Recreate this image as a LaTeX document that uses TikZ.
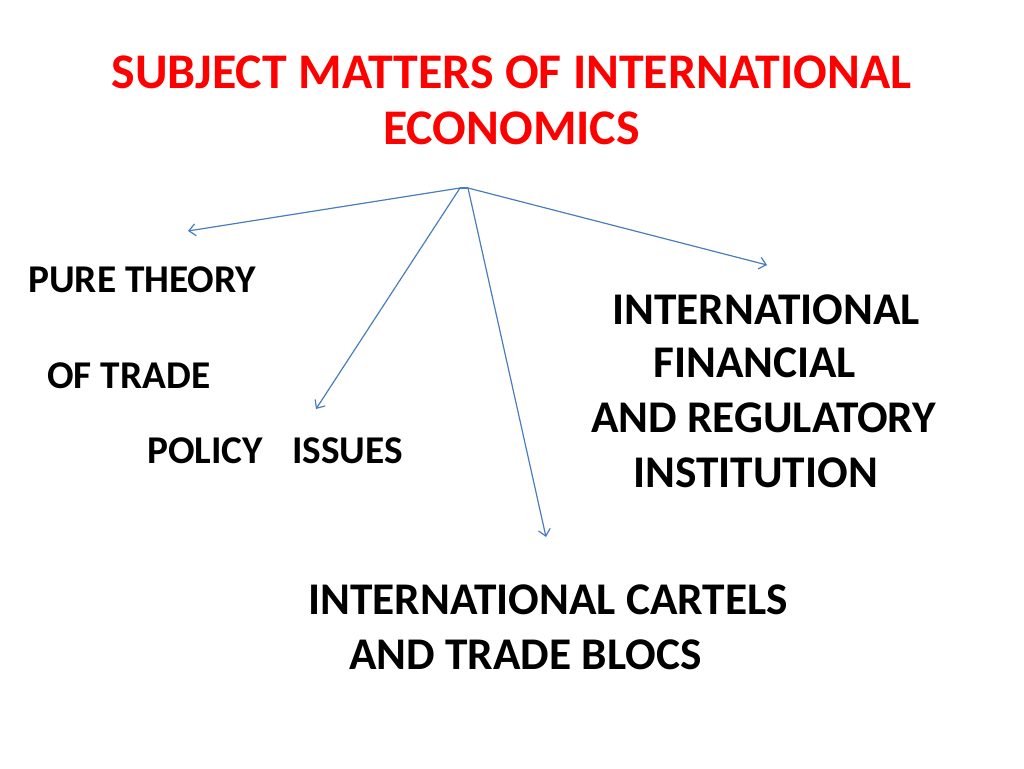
\documentclass[tikz,border=0pt]{standalone}
\usepackage{fontspec}
\setmainfont{Carlito}
\usetikzlibrary{arrows.meta}
\definecolor{arrowblue}{RGB}{74,126,187}
\definecolor{titlered}{RGB}{255,0,0}
\tikzset{
  lbl/.style={font=\fontsize{29.5}{34}\selectfont\bfseries, inner sep=0pt, anchor=west, text=black},
  lblbig/.style={font=\fontsize{34}{40}\selectfont\bfseries, inner sep=0pt, anchor=west, text=black},
  ttl/.style={font=\fontsize{37.4}{44}\selectfont\bfseries, inner sep=0pt, text=titlered},
  conn/.style={draw=arrowblue, line width=0.9pt, -{Straight Barb[length=5pt,width=9pt]}}
}
\begin{document}
\begin{tikzpicture}[x=0.75pt,y=-0.75pt]
\useasboundingbox[fill=white] (0,0) rectangle (1024,768);
\node[ttl] (t1) at (511.5,72) {SUBJECT MATTERS OF INTERNATIONAL};
\node[ttl] (t2) at (511.5,128) {ECONOMICS};
\node[lbl] (pure) at (28,280) {PURE THEORY};
\node[lbl] (oftrade) at (47,376) {OF TRADE};
\node[lbl] (policy) at (147,451) {POLICY\hspace{21.75pt}ISSUES};
\node[lblbig] (intl) at (612,310) {INTERNATIONAL};
\node[lblbig] (fin) at (653,363) {FINANCIAL};
\node[lblbig] (reg) at (591,418) {AND REGULATORY};
\node[lblbig] (inst) at (633,473) {INSTITUTION};
\node[lblbig] (cart) at (308,600) {INTERNATIONAL CARTELS};
\node[lblbig] (blocs) at (349,655) {AND TRADE BLOCS};
\coordinate (hubL) at (460,188);
\coordinate (hubR) at (468,188);
\coordinate (eL) at (188,231);
\coordinate (eP) at (316,409);
\coordinate (eC) at (546,537);
\coordinate (eR) at (767,265);
\draw[draw=arrowblue, line width=0.9pt] (hubL) -- (hubR);
\draw[conn] (hubL) -- (eL);
\draw[conn] (hubL) -- (eP);
\draw[conn] (hubR) -- (eC);
\draw[conn] (hubR) -- (eR);
\end{tikzpicture}
\end{document}
